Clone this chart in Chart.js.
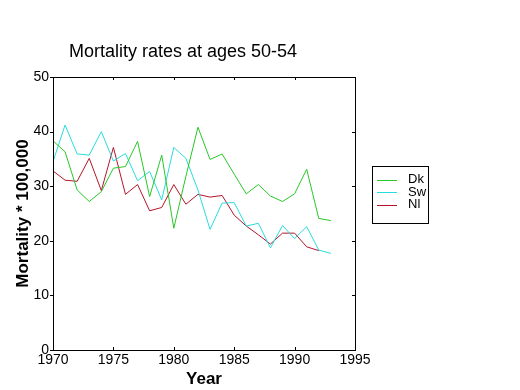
<!DOCTYPE html>
<html>
<head>
<meta charset="utf-8">
<script src="https://cdn.jsdelivr.net/npm/chart.js@4"></script>
<style>
  html, body { margin: 0; padding: 0; background: #fff; }
  #wrap { width: 520px; height: 390px; }
</style>
</head>
<body>
<div id="wrap"><canvas id="chart" width="520" height="390"></canvas></div>
<script>
const years = [1970, 1971, 1972, 1973, 1974, 1975, 1976, 1977, 1978, 1979, 1980, 1981,
               1982, 1983, 1984, 1985, 1986, 1987, 1988, 1989, 1990, 1991, 1992, 1993];
const dk = [38.3, 36.3, 29.3, 27.2, 29.0, 33.3, 33.6, 38.2, 28.1, 35.7, 22.3, 31.8,
            40.8, 34.9, 35.9, 32.2, 28.6, 30.3, 28.2, 27.2, 28.6, 33.1, 24.1, 23.7];
const sw = [34.5, 41.2, 35.9, 35.7, 40.0, 34.6, 36.0, 31.0, 32.7, 27.5, 37.1, 35.1,
            29.3, 22.1, 26.9, 27.0, 22.7, 23.2, 18.7, 22.8, 20.4, 22.6, 18.3, 17.7];
const nl = [32.8, 31.1, 30.9, 35.1, 29.2, 37.1, 28.5, 30.3, 25.5, 26.1, 30.3, 26.7,
            28.5, 28.0, 28.3, 24.7, 22.7, 21.1, 19.4, 21.4, 21.4, 18.9, 18.2];

const tickFont = { family: "'Liberation Sans', Arial, sans-serif", size: 14 };

const toPoints = vals => vals.map((v, i) => ({ x: years[i], y: v }));

// box around the plot with tick marks (inward except on the left)
const frameTicks = {
  id: 'frameTicks',
  afterDatasetsDraw(chart) {
    const { ctx, chartArea: a, scales } = chart;
    const len = 3;
    ctx.save();
    ctx.strokeStyle = '#000';
    ctx.lineWidth = 1;
    ctx.strokeRect(Math.round(a.left) + 0.5, Math.round(a.top) + 0.5,
                   Math.round(a.right - a.left), Math.round(a.bottom - a.top));
    ctx.beginPath();
    scales.x.ticks.forEach(t => {
      const px = Math.round(scales.x.getPixelForValue(t.value)) + 0.5;
      ctx.moveTo(px, a.bottom); ctx.lineTo(px, a.bottom - len);
      ctx.moveTo(px, a.top); ctx.lineTo(px, a.top + len);
    });
    scales.y.ticks.forEach(t => {
      const py = Math.round(scales.y.getPixelForValue(t.value)) + 0.5;
      ctx.moveTo(a.left, py); ctx.lineTo(a.left - len, py);
      ctx.moveTo(a.right, py); ctx.lineTo(a.right - len, py);
    });
    ctx.stroke();
    ctx.restore();
  }
};

// boxed legend to the right of the plot
const boxLegend = {
  id: 'boxLegend',
  afterDraw(chart) {
    const { ctx } = chart;
    const x = 372, y = 166, w = 56, h = 57;
    ctx.save();
    ctx.strokeStyle = '#000';
    ctx.lineWidth = 1;
    ctx.strokeRect(x + 0.5, y + 0.5, w, h);
    ctx.font = "13px 'Liberation Sans', Arial, sans-serif";
    ctx.textBaseline = 'middle';
    ctx.fillStyle = '#000';
    chart.data.datasets.forEach((ds, i) => {
      const ry = y + 13.5 + i * 12.5;
      ctx.strokeStyle = ds.borderColor;
      ctx.beginPath();
      ctx.moveTo(377, Math.round(ry) + 0.5);
      ctx.lineTo(397, Math.round(ry) + 0.5);
      ctx.stroke();
      ctx.fillText(ds.label, 408, ry);
    });
    ctx.restore();
  }
};

new Chart(document.getElementById('chart'), {
  type: 'line',
  data: {
    datasets: [
      { label: 'Dk', data: toPoints(dk), borderColor: 'rgb(40, 200, 40)' },
      { label: 'Sw', data: toPoints(sw), borderColor: 'rgb(40, 220, 220)' },
      { label: 'Nl', data: toPoints(nl), borderColor: 'rgb(180, 20, 40)' }
    ]
  },
  options: {
    responsive: false,
    animation: false,
    layout: { padding: { left: 11, right: 165, top: 0, bottom: 0 } },
    elements: {
      line: { borderWidth: 1, tension: 0, fill: false },
      point: { radius: 0 }
    },
    plugins: {
      legend: { display: false },
      tooltip: { enabled: false },
      title: {
        display: true,
        text: 'Mortality rates at ages 50-54',
        color: '#000',
        font: { family: "'Liberation Sans', Arial, sans-serif", size: 18, weight: 'normal' },
        padding: { top: 41, bottom: 14.4 }
      }
    },
    scales: {
      x: {
        type: 'linear',
        min: 1970,
        max: 1995,
        afterFit: s => { s.height = 40; },
        ticks: { stepSize: 5, color: '#000', font: tickFont, padding: 2, maxRotation: 0,
                 callback: v => String(v) },
        grid: { display: false, drawTicks: false },
        border: { display: false },
        title: {
          display: true,
          text: 'Year',
          color: '#000',
          font: { family: "'Liberation Sans', Arial, sans-serif", size: 17, weight: 'bold' },
          padding: { top: 0, bottom: 0 }
        }
      },
      y: {
        min: 0,
        max: 50,
        afterFit: s => { s.width = 42; },
        ticks: { stepSize: 10, color: '#000', font: tickFont, padding: 4 },
        grid: { display: false, drawTicks: false },
        border: { display: false },
        title: {
          display: true,
          text: 'Mortality * 100,000',
          color: '#000',
          font: { family: "'Liberation Sans', Arial, sans-serif", size: 17, weight: 'bold' },
          padding: { top: 2, bottom: 0 }
        }
      }
    }
  },
  plugins: [frameTicks, boxLegend]
});
</script>
</body>
</html>
